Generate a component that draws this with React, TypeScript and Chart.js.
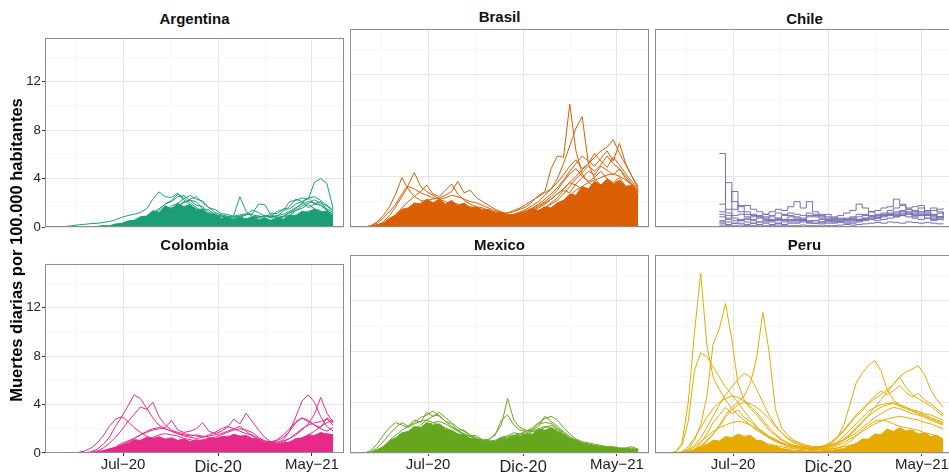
import React, { useEffect, useRef } from 'react';
import { Chart, registerables } from 'chart.js';

Chart.register(...registerables);

const FONT = '"Liberation Sans", Arial, Helvetica, sans-serif';
const n = null;

// days since 2020-01-01 (one sample every 10 days)
const DAYS = [
  80, 90, 100, 110, 120, 130, 140, 150, 160, 170,
  180, 190, 200, 210, 220, 230, 240, 250, 260, 270,
  280, 290, 300, 310, 320, 330, 340, 350, 360, 370,
  380, 390, 400, 410, 420, 430, 440, 450, 460, 470,
  480, 490, 500, 510, 520,
];

const X_MAJOR_DAYS = [182, 335, 486];
const X_MAJOR_LABELS = ['Jul−20', 'Dic-20', 'May−21'];
const X_MINOR_DAYS = [106.5, 258.5, 410.5];
const X_MIN = 56.5;
const X_MAX = 537.5;
const Y_MAJOR = [0, 4, 8, 12];
const Y_MINOR = [2, 6, 10, 14];
const Y_MAX = 15.62;

const COUNTRIES = ['Argentina', 'Brasil', 'Chile', 'Colombia', 'Mexico', 'Peru'];
const COLORS = ['#1B9E77', '#D95F02', '#7570B3', '#E7298A', '#66A61E', '#E6AB02'];
const Y_TITLE = 'Muertes diarias por 100.000 habitantes';

// ---------------- Argentina ----------------
const ARG_CORE = [0,0,0,0,0, 0.03,0.05,0.12,0.1,0.25, 0.3,0.5,0.55,0.85,0.9, 1.35,1.2,1.75,1.5,1.95, 1.7,1.85,1.4,1.5,1.05, 1.0,0.7,0.85,0.6,0.8, 0.65,0.85,0.6,0.75,0.55, 0.75,0.65,1.0,0.95,1.3, 1.2,1.5,1.25,1.3,0.9];
const ARG_1 = [0,0.05,0.1,0.18,0.22, 0.28,0.3,0.38,0.45,0.6, 0.8,0.95,1.05,1.2,1.5, 2.3,2.9,2.5,2.45,2.8, 2.2,1.8,1.5,1.25,1.05, 0.9,0.85,0.8,0.9,1.0, 1.1,1.0,0.9,0.85,0.85, 0.95,1.05,1.3,1.6,1.9, 2.1,2.0,1.8,1.5,1.2];
const ARG_2 = [0,0,0,0,0, 0,0,0.02,0.05,0.1, 0.15,0.2,0.3,0.4,0.6, 0.8,1.1,1.2,1.6,1.7, 2.1,2.2,1.8,1.7,1.2, 1.1,0.7,0.8,0.55,0.7, 0.6,0.85,0.75,0.95,0.9, 1.3,1.4,2.1,2.2,2.4, 2.3,3.7,4.0,3.6,1.5];
const ARG_3 = [0,0,0,0,0, 0,0,0,0,0.05, 0.1,0.2,0.4,0.6,0.9, 1.2,1.5,1.9,2.1,2.5, 2.6,2.2,2.1,1.5,1.4, 1.0,0.95,0.75,0.95,2.5, 1.3,0.85,0.9,0.8,1.15, 1.1,1.5,1.5,1.9,2.1, 2.4,1.9,1.8,1.3,1.1];
const ARG_4 = [0,0,0,0,0, 0,0,0,0,0, 0.02,0.05,0.1,0.2,0.35, 0.5,0.8,1.1,1.4,1.8, 2.0,2.3,2.5,2.0,1.6, 1.2,1.0,0.9,0.8,0.9, 1.0,1.1,1.9,1.85,1.0, 0.8,0.9,1.2,1.5,2.0, 2.4,2.5,2.2,1.8,1.4];
const ARG_5 = [0,0,0,0,0, 0,0,0,0,0, 0,0.05,0.1,0.15,0.2, 0.3,0.45,0.55,0.85,0.95, 1.25,1.2,1.3,1.0,0.95, 0.65,0.55,0.35,0.45,0.4, 0.65,0.45,0.45,0.35,0.55, 0.55,0.85,0.95,1.35,1.55, 1.85,1.5,1.35,0.95,0.7];
const ARG_6 = [0,0,0,0,0, 0,0,0.01,0.02,0.05, 0.1,0.15,0.25,0.4,0.6, 0.9,1.4,1.9,2.2,2.7, 2.4,2.0,1.6,1.3,1.1, 1.0,0.9,0.8,0.7,0.8, 1.0,1.4,1.2,0.9,0.8, 0.9,1.3,1.7,2.3,2.1, 1.6,1.9,2.1,1.4,1.0];
const ARG_7 = [0,0,0,0,0, 0,0,0,0,0, 0.05,0.1,0.2,0.3,0.5, 0.7,1.05,1.25,1.75,1.95, 2.35,2.6,2.3,2.15,1.6, 1.45,1.1,1.05,0.85,0.85, 0.65,0.75,0.75,0.95,0.75, 0.75,0.85,1.15,1.35,1.75, 1.95,2.25,1.95,1.75,1.3];
const ARG_8 = [0,0,0,0,0, 0,0,0,0,0, 0,0,0.02,0.05,0.1, 0.2,0.35,0.5,0.7,0.9, 1.0,1.1,0.95,0.85,0.7, 0.6,0.5,0.45,0.5,0.55, 0.5,0.4,0.35,0.3,0.35, 0.4,0.5,0.7,0.9,1.1, 1.3,1.4,1.2,0.9,0.6];

// ---------------- Brasil ----------------
const BRA_CORE = [0,0.05,0.2,0.3,0.7, 0.9,1.4,1.5,1.9,1.8, 2.2,1.9,2.2,1.8,2.1, 1.7,1.9,1.5,1.6,1.3, 1.4,1.1,1.15,0.9,1.0, 1.1,1.2,1.45,1.3,1.6, 1.5,1.9,2.1,2.6,2.5, 3.2,3.0,3.6,3.3,3.8, 3.4,3.7,3.2,3.3,2.6];
const BRA_1 = [0,0.1,0.3,0.7,1.2, 1.8,2.6,3.3,4.3,3.2, 2.8,2.5,2.2,2.0,1.8, 1.6,1.4,1.2,1.0,0.9, 0.8,0.8,0.7,0.7,0.8, 1.0,1.2,1.3,1.5,1.8, 2.2,2.6,3.0,3.5,3.3, 3.0,2.8,2.6,2.4,2.3, 2.1,2.0,1.9,1.7,1.5];
const BRA_2 = [0,0.1,0.4,0.9,1.6, 2.6,3.9,3.0,2.4,2.1, 2.0,1.9,1.8,1.7,1.6, 1.5,1.4,1.3,1.2,1.1, 1.0,0.9,0.8,0.8,0.9, 1.1,1.3,1.5,1.7,2.0, 2.4,2.9,3.6,4.2,4.6, 4.0,3.6,3.9,4.4,3.8, 3.5,3.9,3.2,2.8,2.5];
const BRA_3 = [0,0,0.1,0.3,0.6, 1.0,1.5,2.0,2.4,2.8, 3.3,2.6,2.4,2.9,3.4, 2.6,2.1,1.8,1.6,1.5, 1.3,1.1,1.0,0.9,1.0, 1.2,1.4,1.7,2.0,2.5, 3.0,3.5,4.1,4.8,5.3, 4.6,5.0,5.8,5.2,4.7, 5.5,4.9,4.2,3.6,2.9];
const BRA_4 = [0,0,0.05,0.2,0.4, 0.7,1.0,1.3,1.6,1.9, 2.1,2.2,2.3,2.5,2.8, 3.6,2.7,2.9,2.3,2.0, 1.7,1.4,1.2,1.0,0.9, 1.0,1.2,1.5,1.8,2.2, 2.6,3.1,3.7,4.4,5.0, 5.6,5.2,4.8,5.4,6.0, 5.2,6.6,5.0,4.0,3.0];
const BRA_5 = [0,0,0,0.1,0.3, 0.5,0.7,0.9,1.1,1.3, 1.5,1.6,1.7,1.8,1.9, 1.8,1.7,1.6,1.5,1.4, 1.3,1.2,1.1,1.1,1.2, 1.4,1.6,2.0,2.5,2.8, 4.6,5.6,5.5,9.7,6.0, 4.2,3.5,3.2,3.0,2.8, 2.7,2.6,2.5,2.3,2.1];
const BRA_6 = [0,0,0,0.05,0.15, 0.3,0.5,0.7,0.9,1.1, 1.3,1.4,1.5,1.6,1.7, 1.6,1.5,1.4,1.3,1.2, 1.1,1.0,1.0,1.1,1.3, 1.5,1.8,2.1,2.4,2.7, 3.0,3.8,5.0,6.4,7.8, 8.7,5.0,3.8,3.3,3.0, 2.9,2.7,2.5,2.4,2.2];
const BRA_7 = [0,0,0,0,0.05, 0.15,0.3,0.5,0.7,0.9, 1.1,1.2,1.3,1.4,1.4, 1.3,1.2,1.2,1.1,1.0, 0.9,0.9,0.8,0.8,0.9, 1.0,1.2,1.4,1.6,1.9, 2.2,2.6,3.0,3.5,4.0, 4.5,5.0,5.5,6.0,6.3, 6.9,5.8,4.9,4.0,3.2];
const BRA_8 = [0,0,0.1,0.4,0.9, 1.6,2.4,3.2,3.0,2.7, 2.5,2.3,2.2,2.3,2.5, 2.4,2.2,2.0,1.9,1.7, 1.5,1.3,1.1,1.0,0.9, 1.0,1.1,1.2,1.3,1.5, 1.8,2.1,2.6,3.2,3.8, 4.3,4.8,4.4,4.9,5.6, 5.0,4.6,4.0,3.4,2.7];
const BRA_9 = [0,0,0.05,0.15,0.35, 0.6,0.8,1.0,1.2,1.3, 1.4,1.5,1.4,1.3,1.4, 1.3,1.2,1.1,1.0,0.9, 0.8,0.7,0.7,0.7,0.8, 0.9,1.0,1.1,1.2,1.3, 1.5,1.8,2.1,2.5,2.9, 3.2,3.5,3.7,3.9,4.1, 4.2,4.0,3.7,3.3,2.8];
const BRA_10 = [0,0,0.02,0.1,0.25, 0.45,0.7,0.9,1.15,1.3, 1.6,1.4,1.75,1.5,1.8, 1.6,1.4,1.5,1.2,1.3, 1.0,1.1,0.85,0.95,0.8, 1.0,0.9,1.2,1.1,1.5, 1.9,2.3,2.9,2.7,3.4, 3.9,4.4,4.1,4.8,4.5, 4.1,4.6,3.8,3.4,2.8];

// ---------------- Chile ----------------
const CHL_1 = [n,n,n,n,n, n,n,n,5.8,1.1, 0.7,0.5,0.6,0.5,0.4, 0.4,0.5,0.6,0.5,0.4, 0.4,0.5,0.4,0.5,0.6, 0.5,0.4,0.5,0.6,0.7, 0.6,0.7,0.8,0.9,1.0, 1.1,1.2,1.0,1.4,1.3, 1.1,0.9,1.0,0.8,1.2];
const CHL_2 = [n,n,n,n,n, n,n,n,1.8,3.5, 2.0,1.2,1.0,0.9,0.8, 0.7,0.8,0.7,0.6,0.6, 0.5,0.6,0.5,0.5,0.4, 0.5,0.4,0.4,0.5,0.6, 0.5,0.6,0.7,0.7,0.8, 0.9,1.0,1.2,1.1,1.0, 0.9,1.0,0.8,0.7,0.9];
const CHL_3 = [n,n,n,n,n, n,n,n,1.2,1.4, 2.8,1.6,1.7,1.4,1.2, 1.0,0.9,1.1,1.0,0.9, 0.8,0.7,0.8,0.9,0.8, 0.7,0.6,0.6,0.7,0.8, 1.0,0.9,1.2,1.3,1.5, 1.6,2.2,1.8,1.5,1.6, 1.7,1.3,1.5,1.2,1.0];
const CHL_4 = [n,n,n,n,n, n,n,n,0.8,0.6, 0.5,0.6,0.7,0.8,0.9, 1.0,1.2,1.4,1.3,1.6, 2.0,1.5,2.0,1.2,1.0, 0.8,0.7,0.6,0.6,0.7, 0.8,1.0,0.9,0.8,0.9, 1.0,1.1,1.3,1.2,1.1, 1.0,1.2,0.9,0.8,0.7];
const CHL_5 = [n,n,n,n,n, n,n,n,0.5,0.9, 1.4,1.7,1.2,1.0,0.8, 0.6,0.5,0.5,0.6,0.8, 0.7,0.6,0.9,0.8,0.7, 0.6,0.7,0.9,1.1,1.3, 1.8,1.5,1.2,1.0,1.1, 1.3,1.5,1.7,1.4,1.2, 1.5,1.1,1.3,1.4,1.5];
const CHL_6 = [n,n,n,n,n, n,n,n,0.3,0.4, 0.3,0.3,0.2,0.3,0.2, 0.3,0.2,0.3,0.2,0.3, 0.3,0.4,0.3,0.3,0.4, 0.3,0.3,0.4,0.4,0.3, 0.4,0.5,0.6,0.5,0.6, 0.7,0.8,0.9,0.8,0.7, 0.6,0.7,0.5,0.6,0.5];
const CHL_7 = [n,n,n,n,n, n,n,n,1.0,0.7, 0.9,1.0,0.8,0.6,0.7, 0.8,0.6,0.7,0.9,1.1, 1.0,0.9,1.1,1.0,0.9, 1.0,0.8,0.7,0.6,0.5, 0.6,0.7,0.6,0.7,0.9, 1.0,0.9,1.1,1.0,0.9, 1.2,1.0,0.7,1.1,0.9];
const CHL_8 = [n,n,n,n,n, n,n,n,0.4,0.2, 0.3,0.5,0.4,0.3,0.4, 0.5,0.4,0.3,0.4,0.5, 0.6,0.5,0.4,0.3,0.3, 0.4,0.5,0.4,0.3,0.4, 0.5,0.6,0.8,0.7,0.9, 1.0,0.8,0.9,1.1,0.8, 0.9,0.7,0.6,0.8,0.6];
const CHL_9 = [n,n,n,n,n, n,n,n,0.15,0.1, 0.1,0.15,0.1,0.1,0.15, 0.1,0.1,0.15,0.1,0.1, 0.1,0.15,0.1,0.1,0.15, 0.1,0.1,0.15,0.2,0.15, 0.2,0.25,0.3,0.35,0.3, 0.4,0.35,0.3,0.4,0.35, 0.3,0.35,0.3,0.25,0.3];

// ---------------- Colombia ----------------
const COL_CORE = [0,0,0,0,0.03, 0.05,0.12,0.2,0.35,0.45, 0.7,0.8,1.1,1.05,1.3, 1.2,1.35,1.15,1.25,1.05, 1.15,0.95,1.1,1.0,1.2, 1.15,1.35,1.3,1.55,1.4, 1.45,1.2,1.15,0.85,0.8, 0.7,0.85,0.9,1.2,1.25, 1.5,1.45,1.7,1.55,1.5];
const COL_1 = [0,0,0,0.05,0.15, 0.4,0.8,1.4,2.2,2.8, 3.0,2.6,2.1,1.7,1.4, 1.2,1.1,1.0,0.9,0.9, 0.8,0.8,0.9,1.0,1.1, 1.2,1.3,1.4,1.3,1.2, 1.0,0.8,0.7,0.6,0.6, 0.7,0.9,1.2,1.6,2.0, 2.3,2.5,2.6,2.8,2.3];
const COL_2 = [0,0,0,0,0.02, 0.1,0.3,0.7,1.3,2.2, 3.0,3.9,4.8,4.5,3.7, 2.9,2.3,2.0,1.8,1.6, 1.5,1.4,1.5,1.4,1.3, 1.2,1.2,1.3,1.2,1.1, 1.0,0.9,0.8,0.8,0.9, 1.1,1.5,2.0,2.6,2.9, 2.6,2.3,2.1,2.9,2.5];
const COL_3 = [0,0,0,0,0, 0.05,0.15,0.4,0.8,1.3, 1.9,2.6,3.2,3.8,3.6, 4.2,3.0,2.3,1.9,1.7, 1.6,1.5,1.4,1.3,1.4, 1.5,1.6,1.8,2.0,2.2, 1.8,1.4,1.1,0.9,0.8, 0.8,1.1,1.8,3.0,4.3, 4.8,4.2,3.0,2.2,1.8];
const COL_4 = [0,0,0,0,0, 0,0.05,0.15,0.3,0.5, 0.8,1.0,1.2,1.5,1.7, 1.9,2.0,2.1,2.7,1.9, 1.7,1.8,2.0,2.5,1.8, 1.6,1.8,2.1,2.8,2.4, 3.3,2.6,1.9,1.3,0.9, 0.8,0.8,0.9,1.0,1.2, 1.5,1.8,2.2,2.5,2.7];
const COL_5 = [0,0,0,0,0, 0,0.02,0.1,0.2,0.4, 0.6,0.9,1.2,1.5,1.8, 2.0,2.1,2.0,1.8,1.6, 1.4,1.3,1.2,1.3,1.5, 1.7,2.0,2.2,2.0,1.8, 1.6,1.5,1.2,1.0,0.9, 0.9,1.0,1.2,1.5,1.9, 2.4,3.2,4.6,3.3,2.5];
const COL_6 = [0,0,0,0,0, 0,0,0.05,0.1,0.2, 0.35,0.5,0.7,0.9,1.1, 1.3,1.5,1.6,1.5,1.4, 1.2,1.1,1.0,1.1,1.2, 1.3,1.5,1.7,1.9,2.0, 1.9,1.7,1.3,1.0,0.9, 1.0,1.3,1.8,2.5,2.9, 2.7,2.3,2.0,1.8,2.1];
const COL_7 = [0,0,0,0,0, 0,0,0,0.05,0.1, 0.2,0.3,0.45,0.6,0.75, 0.85,0.9,0.95,0.9,0.85, 0.8,0.75,0.8,0.85,0.9, 1.0,1.05,1.1,1.0,0.9, 0.8,0.7,0.6,0.55,0.5, 0.5,0.6,0.7,0.9,1.1, 1.2,1.3,1.4,1.6,1.5];

// ---------------- Mexico ----------------
const MEX_CORE = [0,0.05,0.25,0.5,0.95, 1.2,1.6,1.7,2.1,2.0, 2.4,2.2,2.3,1.9,1.8, 1.5,1.45,1.15,1.1,0.9, 0.85,0.9,1.2,1.15,1.4, 1.3,1.5,1.5,1.9,1.8, 2.0,1.7,1.5,1.1,0.95, 0.75,0.6,0.5,0.45,0.35, 0.35,0.25,0.25,0.2,0.15];
const MEX_1 = [0,0.1,0.4,0.9,1.5, 2.0,2.4,2.1,2.6,2.4, 3.2,2.9,3.0,2.5,2.3, 1.8,1.8,1.4,1.35,1.05, 0.95,1.0,1.25,1.35,1.6, 1.5,1.75,1.85,2.3,2.4, 2.35,1.95,1.65,1.15,1.05, 0.75,0.7,0.55,0.55,0.45, 0.45,0.35,0.35,0.25,0.3];
const MEX_2 = [0,0.05,0.2,0.5,1.0, 1.4,1.8,2.1,2.4,2.8, 3.0,3.3,2.9,2.5,2.1, 1.8,1.5,1.3,1.1,0.9, 1.0,1.5,2.2,4.3,2.6, 2.0,1.8,1.7,1.8,2.0, 2.2,1.9,1.5,1.2,0.9, 0.8,0.6,0.5,0.5,0.4, 0.4,0.3,0.3,0.4,0.2];
const MEX_3 = [0,0,0.1,0.3,0.6, 0.9,1.2,1.5,1.7,1.9, 2.2,2.4,2.5,2.3,2.0, 1.7,1.5,1.3,1.1,1.0, 1.1,1.4,2.6,3.0,2.2, 1.8,1.7,2.0,2.4,2.7, 2.9,2.6,2.0,1.5,1.1, 0.9,0.8,0.7,0.6,0.5, 0.5,0.4,0.4,0.5,0.3];
const MEX_4 = [0,0.2,0.7,1.4,2.0, 2.4,2.2,2.0,2.3,2.5, 2.6,2.4,2.2,2.0,1.7, 1.5,1.3,1.1,1.0,0.9, 0.8,0.9,1.1,1.3,1.4, 1.5,1.6,1.8,2.1,2.9, 2.5,2.1,1.7,1.3,1.0, 0.8,0.7,0.6,0.5,0.4, 0.4,0.3,0.3,0.3,0.2];
const MEX_5 = [0,0,0.05,0.2,0.5, 0.8,1.1,1.4,1.8,2.2, 2.6,2.9,3.2,2.8,2.4, 2.0,1.7,1.4,1.2,1.0, 0.9,0.9,1.0,1.2,1.3, 1.4,1.5,1.7,1.9,2.1, 2.0,1.8,1.4,1.1,0.9, 0.7,0.6,0.55,0.5,0.45, 0.4,0.35,0.3,0.3,0.25];
const MEX_6 = [0,0,0.05,0.15,0.3, 0.5,0.7,0.9,1.1,1.3, 1.5,1.6,1.7,1.6,1.4, 1.2,1.0,0.9,0.8,0.7, 0.7,0.8,0.9,1.0,1.1, 1.1,1.2,1.3,1.4,1.5, 1.4,1.2,1.0,0.8,0.7, 0.6,0.5,0.45,0.4,0.35, 0.3,0.3,0.25,0.25,0.2];

// ---------------- Peru ----------------
const PER_CORE = [0,0,0,0.05,0.25, 0.5,0.7,1.0,0.95,1.3, 1.2,1.5,1.3,1.4,1.0, 0.95,0.6,0.55,0.35,0.3, 0.2,0.25,0.15,0.2,0.15, 0.2,0.2,0.3,0.35,0.6, 0.75,1.1,1.1,1.5,1.45, 1.9,1.7,2.0,1.75,1.8, 1.5,1.6,1.3,1.4,1.1];
const PER_1 = [0,0.1,0.8,4.0,9.5, 14.2,8.5,6.0,5.0,4.2, 3.5,3.0,2.6,2.2,1.8, 1.5,1.2,1.0,0.8,0.6, 0.5,0.4,0.4,0.3,0.3, 0.3,0.3,0.4,0.6,0.9, 1.3,1.8,2.2,2.5,2.6, 2.5,2.3,2.1,2.0,1.9, 1.8,1.6,1.5,1.3,1.1];
const PER_2 = [0,0.1,0.6,2.5,6.5, 7.9,7.6,6.8,6.0,5.2, 4.6,4.0,3.3,2.7,2.1, 1.6,1.2,0.9,0.7,0.5, 0.4,0.4,0.3,0.3,0.4, 0.5,0.7,1.2,2.2,3.8, 5.5,6.3,6.9,7.3,6.5, 5.0,4.2,3.8,3.6,3.4, 3.2,3.0,2.8,2.6,2.4];
const PER_3 = [0,0,0.05,0.3,1.0, 2.2,4.5,8.6,9.8,11.8, 9.0,5.5,4.2,3.5,3.0, 2.4,1.8,1.4,1.0,0.8, 0.6,0.5,0.5,0.4,0.4, 0.4,0.5,0.7,1.0,1.4, 1.9,2.4,2.9,3.3,3.6, 3.8,3.9,3.7,3.5,3.3, 3.1,2.9,2.7,2.5,2.3];
const PER_4 = [0,0,0,0.05,0.2, 0.5,0.9,1.5,2.2,3.0, 3.6,4.0,4.5,5.5,7.5, 11.1,8.0,3.5,2.0,1.4, 1.0,0.8,0.6,0.5,0.5, 0.5,0.6,0.9,1.3,1.8, 2.3,2.8,3.3,3.6,3.8, 3.9,4.0,3.8,3.6,3.4, 3.3,3.1,3.0,2.8,2.6];
const PER_5 = [0,0,0.05,0.2,0.6, 1.2,2.0,2.9,3.8,4.6, 5.2,5.8,6.3,6.0,5.0, 4.0,3.0,2.2,1.6,1.1, 0.8,0.6,0.5,0.4,0.4, 0.5,0.6,0.8,1.1,1.5, 2.0,2.5,3.0,3.6,4.2, 4.8,5.4,6.0,6.4,6.6, 6.9,6.2,5.0,4.2,3.6];
const PER_6 = [0,0,0.1,0.5,1.2, 2.0,2.8,3.5,4.0,4.3, 4.5,4.4,4.1,3.7,3.2, 2.6,2.0,1.5,1.1,0.8, 0.6,0.5,0.4,0.4,0.5, 0.6,0.9,1.3,1.8,2.4, 3.0,3.5,3.9,4.3,4.6, 5.0,5.4,6.0,5.2,4.6, 4.3,4.0,3.7,3.3,2.9];
const PER_7 = [0,0,0.05,0.2,0.5, 0.9,1.3,1.7,2.0,2.2, 2.4,2.5,2.4,2.2,1.9, 1.6,1.3,1.0,0.8,0.6, 0.5,0.4,0.35,0.3,0.3, 0.35,0.4,0.6,0.8,1.1, 1.4,1.7,2.0,2.3,2.5, 2.7,2.8,2.9,2.8,2.7, 2.6,2.4,2.3,2.1,1.9];
const PER_8 = [0,0,0,0.1,0.3, 0.6,1.0,1.5,2.1,2.8, 3.4,3.8,4.0,3.9,3.6, 3.2,2.7,2.1,1.6,1.2, 0.9,0.7,0.6,0.5,0.5, 0.5,0.6,0.8,1.0,1.3, 1.6,2.0,2.4,2.8,3.1, 3.4,3.6,3.5,3.3,3.1, 3.0,2.8,2.6,2.4,2.2];
const PER_9 = [0,0,0,0.05,0.1, 0.2,0.35,0.5,0.65,0.8, 0.9,1.0,1.0,0.95,0.9, 0.8,0.7,0.6,0.5,0.4, 0.35,0.3,0.3,0.25,0.25, 0.3,0.35,0.4,0.5,0.6, 0.7,0.8,0.9,1.0,1.1, 1.2,1.3,1.3,1.2,1.1, 1.0,0.9,0.9,0.8,0.7];
const PER_10 = [0,0,0,0.1,0.3, 0.8,1.5,2.4,3.0,3.6, 3.1,3.4,2.8,2.5,2.0, 1.7,1.3,1.1,0.8,0.7, 0.5,0.45,0.4,0.35,0.4, 0.5,0.8,1.2,1.7,2.3, 2.9,3.3,4.0,4.5,4.9, 4.6,4.9,5.3,4.8,4.4, 4.7,4.2,3.9,3.5,3.1];

const CORES = [ARG_CORE, BRA_CORE, null, COL_CORE, MEX_CORE, PER_CORE];
const SERIES = [
  [ARG_1, ARG_2, ARG_3, ARG_4, ARG_5, ARG_6, ARG_7, ARG_8],
  [BRA_1, BRA_2, BRA_3, BRA_4, BRA_5, BRA_6, BRA_7, BRA_8, BRA_9, BRA_10],
  [CHL_1, CHL_2, CHL_3, CHL_4, CHL_5, CHL_6, CHL_7, CHL_8, CHL_9],
  [COL_1, COL_2, COL_3, COL_4, COL_5, COL_6, COL_7],
  [MEX_1, MEX_2, MEX_3, MEX_4, MEX_5, MEX_6],
  [PER_1, PER_2, PER_3, PER_4, PER_5, PER_6, PER_7, PER_8, PER_9, PER_10],
];

// layout
const PANEL_LEFT = [45, 350, 655];
const PANEL_TOP = [29, 255];
const PANEL_W = 299;
const PANEL_H = 198;

const GRID_MAJOR = '#e6e6e6';
const GRID_MINOR = '#f1f1f1';
const TEXT = '#222222';

const panelBorder = {
  id: 'panelBorder',
  afterDatasetsDraw(chart: any) {
    const { ctx, chartArea: a } = chart;
    ctx.save();
    ctx.strokeStyle = '#8c8c8c';
    ctx.lineWidth = 1;
    ctx.strokeRect(a.left + 0.5, a.top + 0.5, a.right - a.left - 1, a.bottom - a.top - 1);
    ctx.restore();
  },
};

function Panel({ idx }: { idx: number }) {
  const ref = useRef<HTMLCanvasElement | null>(null);
  const row = Math.floor(idx / 3);
  const col = idx % 3;
  const padL = col === 0 ? 45 : 0;
  const padB = row === 1 ? 30 : 12;
  const w = PANEL_W + padL;
  const h = PANEL_H + padB;

  useEffect(() => {
    if (!ref.current) return;
    const color = COLORS[idx];
    const stepped = idx === 2;
    const toPts = (arr: (number | null)[]) => arr.map((v, i) => ({ x: DAYS[i], y: v }));
    const datasets: any[] = SERIES[idx].map((arr) => ({
      data: toPts(arr),
      borderColor: color,
      borderWidth: 1,
      pointRadius: 0,
      fill: false,
      tension: 0,
      stepped,
    }));
    const core = CORES[idx];
    if (core) {
      datasets.push({
        data: toPts(core),
        borderColor: color,
        backgroundColor: color,
        borderWidth: 1,
        pointRadius: 0,
        fill: 'origin',
        tension: 0,
        stepped,
      });
    }
    const xTicks = [...X_MINOR_DAYS, ...X_MAJOR_DAYS].sort((a, b) => a - b);
    const yTicks = [...Y_MAJOR, ...Y_MINOR].sort((a, b) => a - b);
    const isMajX = (v: any) => X_MAJOR_DAYS.indexOf(v) >= 0;
    const isMajY = (v: any) => Y_MAJOR.indexOf(v) >= 0;

    const chart = new Chart(ref.current, {
      type: 'line',
      data: { datasets },
      options: {
        responsive: false,
        maintainAspectRatio: false,
        animation: false,
        events: [],
        layout: { padding: 0 },
        plugins: { legend: { display: false }, tooltip: { enabled: false }, title: { display: false } },
        scales: {
          x: {
            type: 'linear',
            min: X_MIN,
            max: X_MAX,
            afterBuildTicks: (s: any) => { s.ticks = xTicks.map((v) => ({ value: v })); },
            afterFit: (s: any) => { s.height = padB; },
            border: { display: false },
            grid: {
              color: (c: any) => (isMajX(c.tick && c.tick.value) ? GRID_MAJOR : GRID_MINOR),
              lineWidth: (c: any) => (isMajX(c.tick && c.tick.value) ? 1 : 0.6),
              drawTicks: row === 1,
              tickLength: 3,
              tickWidth: 1,
              tickColor: (c: any) => (isMajX(c.tick && c.tick.value) ? '#333333' : 'rgba(0,0,0,0)'),
            },
            ticks: {
              display: row === 1,
              autoSkip: false,
              maxRotation: 0,
              minRotation: 0,
              padding: 0,
              color: TEXT,
              font: (c: any) => (c.tick && c.tick.value === 335
                ? { family: FONT, size: 16.4, lineHeight: 1.46 }
                : { family: FONT, size: 15, lineHeight: 1.2 }),
              callback: (v: any) => {
                const k = X_MAJOR_DAYS.indexOf(v);
                return k >= 0 ? X_MAJOR_LABELS[k] : '';
              },
            },
          },
          y: {
            type: 'linear',
            min: 0,
            max: Y_MAX,
            afterBuildTicks: (s: any) => { s.ticks = yTicks.map((v) => ({ value: v })); },
            afterFit: (s: any) => { s.width = padL; },
            border: { display: false },
            grid: {
              color: (c: any) => (isMajY(c.tick && c.tick.value) ? GRID_MAJOR : GRID_MINOR),
              lineWidth: (c: any) => (isMajY(c.tick && c.tick.value) ? 1 : 0.6),
              drawTicks: col === 0,
              tickLength: 3,
              tickWidth: 1,
              tickColor: (c: any) => (isMajY(c.tick && c.tick.value) ? '#333333' : 'rgba(0,0,0,0)'),
            },
            ticks: {
              display: col === 0,
              autoSkip: false,
              padding: 1,
              color: TEXT,
              font: { family: FONT, size: 13.3 },
              callback: (v: any) => (isMajY(v) ? String(v) : ''),
            },
          },
        },
      } as any,
      plugins: [panelBorder],
    });
    return () => chart.destroy();
  }, []);

  return (
    <canvas
      ref={ref}
      width={w}
      height={h}
      style={{
        position: 'absolute',
        left: PANEL_LEFT[col] - padL,
        top: PANEL_TOP[row],
        width: w,
        height: h,
        display: 'block',
      }}
    />
  );
}

export default function App() {
  return (
    <div
      style={{
        position: 'fixed',
        left: 0,
        top: 0,
        width: 949,
        height: 472,
        overflow: 'hidden',
        background: '#ffffff',
        fontFamily: FONT,
      }}
    >
      {COUNTRIES.map((name, i) => {
        const row = Math.floor(i / 3);
        const col = i % 3;
        return (
          <div
            key={'strip-' + name}
            style={{
              position: 'absolute',
              left: PANEL_LEFT[col],
              width: PANEL_W,
              top: PANEL_TOP[row] - 18.2 - (i === 1 ? 2 : 0),
              height: 15,
              lineHeight: '15px',
              fontSize: 15,
              fontWeight: 'bold',
              textAlign: 'center',
              color: '#111',
              whiteSpace: 'nowrap',
              zIndex: 2,
            }}
          >
            {name}
          </div>
        );
      })}
      {COUNTRIES.map((name, i) => (
        <Panel key={'panel-' + name} idx={i} />
      ))}
      <div
        style={{
          position: 'absolute',
          left: 16 - 210,
          top: 250 - 10,
          width: 420,
          height: 20,
          lineHeight: '20px',
          fontSize: 16.5,
          fontWeight: 'bold',
          textAlign: 'center',
          color: '#000',
          whiteSpace: 'nowrap',
          transform: 'rotate(-90deg)',
          zIndex: 3,
        }}
      >
        {Y_TITLE}
      </div>
    </div>
  );
}
